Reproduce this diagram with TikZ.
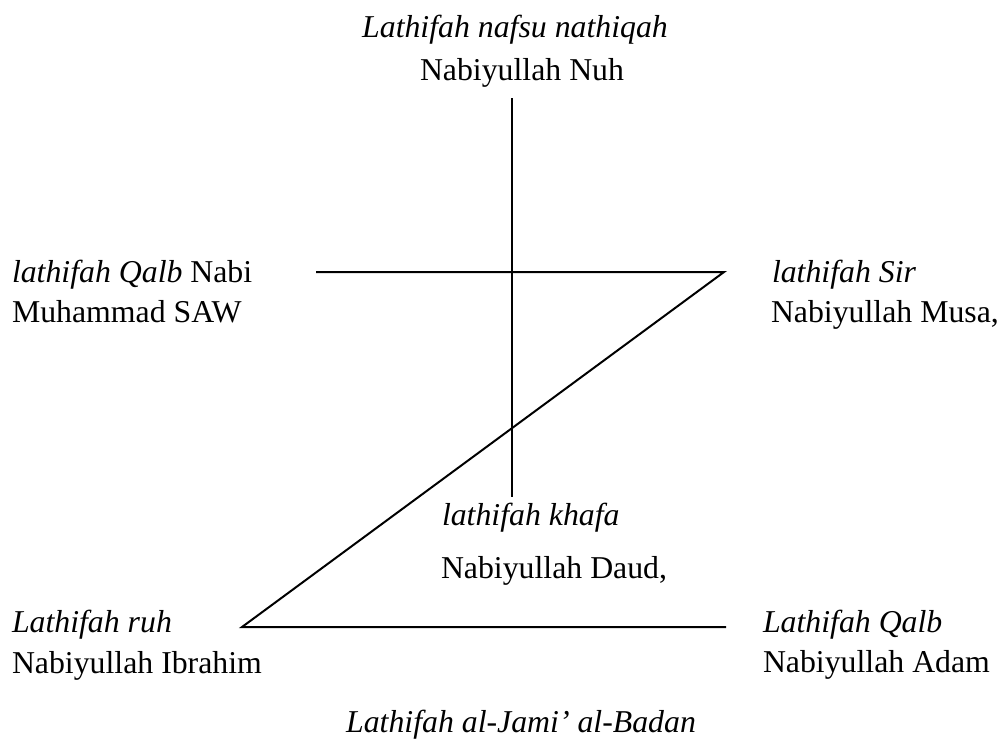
\documentclass[tikz,border=0pt]{standalone}
\usepackage{fontspec}
\setmainfont{Liberation Serif}
\usepackage{tikz}
\usetikzlibrary{positioning}
\tikzset{
  lbl/.style={anchor=base west,inner sep=0pt,outer sep=0pt,font=\fontsize{12}{14}\selectfont},
  lblc/.style={lbl,anchor=base},
  axis/.style={black,line width=0.75pt}
}

\begin{document}
\begin{tikzpicture}[x=0.3774pt,y=-0.3774pt]
    \useasboundingbox (0,0) rectangle (1004,738);
    % top
    \node[lblc] (nafsu) at (515,37) {\textit{Lathifah nafsu nathiqah}};
    \node[lbl] (nuh) at (420,80) {Nabiyullah Nuh};
    % left and right of the cross
    \node[lbl] (qalbnabi) at (12,282) {\textit{lathifah Qalb} Nabi};
    \node[lbl] (muhammad) at (12,322) {Muhammad SAW};
    \node[lbl] (sir) at (772,282) {\textit{lathifah Sir}};
    \node[lbl] (musa) at (771,322) {Nabiyullah Musa,};
    % centre
    \node[lbl] (khafa) at (442,525) {\textit{lathifah khafa}};
    \node[lbl] (daud) at (441,578) {Nabiyullah Daud,};
    % bottom corners
    \node[lbl] (ruh) at (12,632) {\textit{Lathifah ruh}};
    \node[lbl] (ibrahim) at (12,673) {Nabiyullah Ibrahim};
    \node[lbl] (qalb) at (763,632) {\textit{Lathifah Qalb}};
    \node[lbl] (adam) at (763,672) {Nabiyullah Adam};
    \node[lblc] (badan) at (521,732) {\textit{Lathifah al-Jami’ al-Badan}};
    % line ends
    \coordinate (vtop) at (512,98);
    \coordinate (vbot) at (512,497);
    \coordinate (hleft) at (316,272);
    \coordinate (hright) at (724,272);
    \coordinate (bleft) at (242,627);
    \coordinate (bright) at (726,627);
    \draw[axis] (vtop) -- (vbot);
    \draw[axis,line join=miter] (hleft) -- (hright) -- (bleft) -- (bright);
\end{tikzpicture}
\end{document}
